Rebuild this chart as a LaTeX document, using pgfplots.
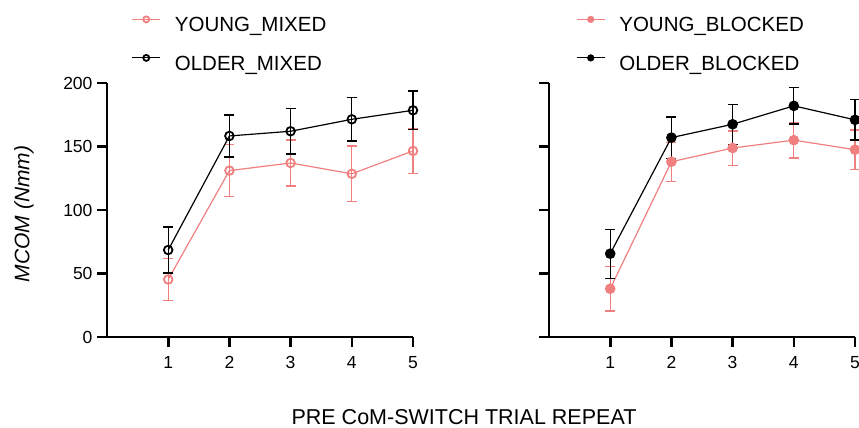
\documentclass[border=0pt]{standalone}
\usepackage{pgfplots}
\pgfplotsset{compat=1.18}
\usepackage{fontspec}
\setmainfont{Liberation Sans}
\definecolor{salmon}{RGB}{240,128,128}
\pgfplotsset{
  panel/.style={
    scale only axis, width=306pt, height=254pt, anchor=south west,
    xmin=0, xmax=5, ymin=0, ymax=200,
    xtick={1,2,3,4,5}, ytick={0,50,100,150,200},
    axis lines=left, axis line style={-, line width=2.6pt},
    tick align=outside, major tick length=10pt,
    every tick/.style={black, line width=2.6pt},
    tick label style={font=\fontsize{17.5}{17.5}\selectfont},
    x tick label style={yshift=-6pt},
    y tick label style={xshift=-1pt},
    /pgf/number format/assume math mode=true,
    clip=false,
    legend cell align=left,
    legend style={draw=none, fill=none, inner sep=0pt, row sep=19pt, column sep=14pt,
      font=\fontsize{20.5}{20.5}\selectfont,
      nodes={inner sep=0pt, text height=15pt, text depth=4pt}},
    legend image code/.code={\draw[mark repeat=2,mark phase=2,#1,mark size=3pt, yshift=7pt] plot coordinates {(0pt,0pt)(14pt,0pt)(28pt,0pt)};},
  },
  ebar/.style={error bars/.cd, y dir=both, y explicit,
    error mark options={rotate=90, mark size=5pt, line width=1.3pt},
    error bar style={line width=1.3pt}},
}
\begin{document}
\begin{tikzpicture}[x=1pt,y=1pt]
\useasboundingbox (0,0) rectangle (859,428);
\begin{axis}[panel, at={(107pt,91pt)},
  legend style={at={(axis description cs:0.08,1.263)}, anchor=north west}]
\addplot[salmon, line width=1.2pt, mark=o, mark size=4.3pt, mark options={line width=1.8pt}, ebar]
  table[x=x, y=y, y error=e] {
x y e
1 45.3 16.5
2 131 20.3
3 137 18.2
4 128.5 22
5 146.5 17.5
};
\addlegendentry{YOUNG\_MIXED}
\addplot[black, line width=1.2pt, mark=o, mark size=4.3pt, mark options={line width=1.8pt}, ebar]
  table[x=x, y=y, y error=e] {
x y e
1 68.5 18
2 158.3 16.5
3 162 18
4 171.4 17
5 178.5 15.2
};
\addlegendentry{OLDER\_MIXED}
\end{axis}
\begin{axis}[panel, at={(549pt,91pt)}, yticklabels={},
  legend style={at={(axis description cs:0.088,1.263)}, anchor=north west}]
\addplot[salmon, line width=1.2pt, mark=*, mark size=4.7pt, mark options={fill=salmon}, ebar]
  table[x=x, y=y, y error=e] {
x y e
1 38 17.5
2 138 15.4
3 148.8 13.5
4 155 14
5 147.5 15.5
};
\addlegendentry{YOUNG\_BLOCKED}
\addplot[black, line width=1.2pt, mark=*, mark size=4.7pt, mark options={fill=black}, ebar]
  table[x=x, y=y, y error=e] {
x y e
1 65.6 19.3
2 157 16.3
3 167.5 15.7
4 182 14.3
5 171 16
};
\addlegendentry{OLDER\_BLOCKED}
\end{axis}
\node[anchor=base, inner sep=0pt, font=\fontsize{21.5}{21.5}\selectfont] at (464,3) {PRE CoM-SWITCH TRIAL REPEAT};
\node[rotate=90, font=\fontsize{21}{21}\selectfont\itshape] at (24,214) {MCOM (Nmm)};
\end{tikzpicture}
\end{document}
